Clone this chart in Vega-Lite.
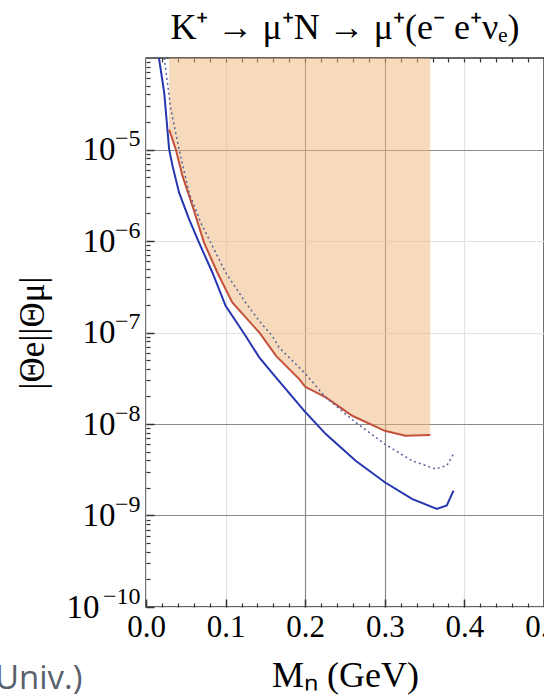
{
  "$schema": "https://vega.github.io/schema/vega-lite/v6.json",
  "autosize": "none",
  "width": 398,
  "height": 549,
  "padding": {"left": 146, "top": 58, "right": 0, "bottom": 92},
  "background": "white",
  "config": {
    "view": {"stroke": "#333333", "strokeWidth": 1.5},
    "font": "Liberation Serif",
    "axis": {"labelFont": "Liberation Serif", "titleFont": "Liberation Serif", "labelColor": "black", "titleColor": "black", "titleFontWeight": "normal", "domain": false}
  },
  "title": {"text": "K⁺ → μ⁺N → μ⁺(e⁻ e⁺νₑ)", "font": "Liberation Serif", "fontSize": 36, "fontWeight": "normal", "color": "black", "offset": 10},
  "datasets": {
    "curves": [
      {"s": "blue", "x": 0.0163, "y": 1.0e-4},
      {"s": "blue", "x": 0.0229, "y": 4.15e-5},
      {"s": "blue", "x": 0.0291, "y": 1.0e-5},
      {"s": "blue", "x": 0.0334, "y": 6.58e-6},
      {"s": "blue", "x": 0.0416, "y": 3.37e-6},
      {"s": "blue", "x": 0.0541, "y": 1.73e-6},
      {"s": "blue", "x": 0.0666, "y": 9.6e-7},
      {"s": "blue", "x": 0.0834, "y": 4.53e-7},
      {"s": "blue", "x": 0.1000, "y": 1.96e-7},
      {"s": "blue", "x": 0.1250, "y": 9.2e-8},
      {"s": "blue", "x": 0.1425, "y": 5.31e-8},
      {"s": "blue", "x": 0.1634, "y": 3.21e-8},
      {"s": "blue", "x": 0.1988, "y": 1.39e-8},
      {"s": "blue", "x": 0.2259, "y": 7.76e-9},
      {"s": "blue", "x": 0.2634, "y": 3.97e-9},
      {"s": "blue", "x": 0.3000, "y": 2.31e-9},
      {"s": "blue", "x": 0.3341, "y": 1.52e-9},
      {"s": "blue", "x": 0.3654, "y": 1.18e-9},
      {"s": "blue", "x": 0.3779, "y": 1.29e-9},
      {"s": "blue", "x": 0.3863, "y": 1.87e-9},
      {"s": "red", "x": 0.0291, "y": 1.65e-5},
      {"s": "red", "x": 0.0375, "y": 1.0e-5},
      {"s": "red", "x": 0.0459, "y": 5.12e-6},
      {"s": "red", "x": 0.0584, "y": 2.41e-6},
      {"s": "red", "x": 0.0729, "y": 9.6e-7},
      {"s": "red", "x": 0.0896, "y": 4.53e-7},
      {"s": "red", "x": 0.1084, "y": 2.13e-7},
      {"s": "red", "x": 0.1425, "y": 9.95e-8},
      {"s": "red", "x": 0.1634, "y": 5.55e-8},
      {"s": "red", "x": 0.1925, "y": 3.09e-8},
      {"s": "red", "x": 0.2000, "y": 2.55e-8},
      {"s": "red", "x": 0.2259, "y": 1.95e-8},
      {"s": "red", "x": 0.2591, "y": 1.23e-8},
      {"s": "red", "x": 0.3000, "y": 8.43e-9},
      {"s": "red", "x": 0.3259, "y": 7.45e-9},
      {"s": "red", "x": 0.3571, "y": 7.59e-9},
      {"s": "dotted", "x": 0.0229, "y": 1.0e-4},
      {"s": "dotted", "x": 0.0313, "y": 2.73e-5},
      {"s": "dotted", "x": 0.0416, "y": 1.0e-5},
      {"s": "dotted", "x": 0.0541, "y": 3.37e-6},
      {"s": "dotted", "x": 0.0688, "y": 1.59e-6},
      {"s": "dotted", "x": 0.0813, "y": 9.6e-7},
      {"s": "dotted", "x": 0.1000, "y": 4.53e-7},
      {"s": "dotted", "x": 0.1250, "y": 2.13e-7},
      {"s": "dotted", "x": 0.1425, "y": 1.33e-7},
      {"s": "dotted", "x": 0.1584, "y": 9.2e-8},
      {"s": "dotted", "x": 0.1675, "y": 6.82e-8},
      {"s": "dotted", "x": 0.1988, "y": 3.65e-8},
      {"s": "dotted", "x": 0.2259, "y": 1.95e-8},
      {"s": "dotted", "x": 0.2634, "y": 1.04e-8},
      {"s": "dotted", "x": 0.3000, "y": 6.04e-9},
      {"s": "dotted", "x": 0.3341, "y": 3.97e-9},
      {"s": "dotted", "x": 0.3634, "y": 3.23e-9},
      {"s": "dotted", "x": 0.3779, "y": 3.51e-9},
      {"s": "dotted", "x": 0.3863, "y": 4.70e-9}
    ]
  },
  "data": {"name": "curves"},
  "resolve": {"axis": {"x": "independent", "y": "independent"}},
  "layer": [
    {
      "transform": [{"filter": "datum.s == 'red'"}],
      "mark": {"type": "area", "color": "#EDB577", "opacity": 0.5, "clip": true},
      "encoding": {
        "x": {"field": "x", "type": "quantitative", "scale": {"domain": [0, 0.5], "nice": false, "zero": false},
          "axis": {"orient": "bottom", "values": [0, 0.1, 0.2, 0.3, 0.4, 0.5], "format": ".1f", "labelFontSize": 31, "labelPadding": 13, "tickSize": -8, "tickColor": "#333", "tickWidth": 1.5,
            "grid": true, "gridColor": {"condition": {"test": "datum.value == 0.2 || datum.value == 0.3", "value": "#8a8a8a"}, "value": "#e2e2e2"}, "gridWidth": 1.2,
            "title": "Mₙ (GeV)", "titleFontSize": 36, "titlePadding": 16, "labelFlush": false, "labelBound": false}},
        "y": {"field": "y", "type": "quantitative", "scale": {"type": "log", "domain": [1e-10, 1e-4], "nice": false},
          "axis": {"orient": "left", "values": [1e-10, 1e-9, 1e-8, 1e-7, 1e-6, 1e-5],
            "labelExpr": "'10'",
            "labelFontSize": 33, "labelPadding": {"condition": {"test": "datum.value == 1e-10", "value": 55}, "value": 39}, "labelBaseline": "middle", "tickSize": -8, "tickColor": "#333", "tickWidth": 1.5,
            "grid": true, "gridColor": {"condition": {"test": "datum.value == 1e-5 || datum.value == 1e-8 || datum.value == 1e-9", "value": "#8a8a8a"}, "value": "#e2e2e2"}, "gridWidth": 1.2,
            "title": "|Θe||Θμ|", "titleFontSize": 35, "titlePadding": 16}},
        "y2": {"datum": 1e-4}
      }
    },
    {
      "transform": [{"filter": "datum.s != 'dotted'"}],
      "mark": {"type": "line", "strokeWidth": 2, "clip": true},
      "encoding": {
        "x": {"field": "x", "type": "quantitative",
          "axis": {"orient": "bottom", "values": [0.02, 0.04, 0.06, 0.08, 0.12, 0.14, 0.16, 0.18, 0.22, 0.24, 0.26, 0.28, 0.32, 0.34, 0.36, 0.38, 0.42, 0.44, 0.46, 0.48], "labels": false, "grid": false, "tickSize": -4, "tickColor": "#333", "tickWidth": 1.2,
            "title": "Univ.)", "titleFont": "Open Sans", "titleFontSize": 33, "titleColor": "#59606e", "titleX": -64, "titleY": 81, "titleAlign": "right", "titleBaseline": "alphabetic", "titleAnchor": "start"}},
        "y": {"field": "y", "type": "quantitative",
          "axis": {"orient": "left", "values": [2e-10, 3e-10, 4e-10, 5e-10, 6e-10, 7e-10, 8e-10, 9e-10, 2e-9, 3e-9, 4e-9, 5e-9, 6e-9, 7e-9, 8e-9, 9e-9, 2e-8, 3e-8, 4e-8, 5e-8, 6e-8, 7e-8, 8e-8, 9e-8, 2e-7, 3e-7, 4e-7, 5e-7, 6e-7, 7e-7, 8e-7, 9e-7, 2e-6, 3e-6, 4e-6, 5e-6, 6e-6, 7e-6, 8e-6, 9e-6, 2e-5, 3e-5, 4e-5, 5e-5, 6e-5, 7e-5, 8e-5, 9e-5], "labels": false, "grid": false, "tickSize": -4, "tickColor": "#333", "tickWidth": 1.2, "title": null}},
        "color": {"field": "s", "type": "nominal", "scale": {"domain": ["blue", "red"], "range": ["#2536B0", "#C2503A"]}, "legend": null}
      }
    },
    {
      "transform": [{"filter": "datum.s == 'dotted'"}],
      "mark": {"type": "line", "strokeWidth": 1.5, "strokeDash": [2, 3], "color": "#56609A", "clip": true},
      "encoding": {
        "x": {"field": "x", "type": "quantitative",
          "axis": {"orient": "top", "values": [0.02, 0.04, 0.06, 0.08, 0.1, 0.12, 0.14, 0.16, 0.18, 0.2, 0.22, 0.24, 0.26, 0.28, 0.3, 0.32, 0.34, 0.36, 0.38, 0.4, 0.42, 0.44, 0.46, 0.48], "labels": false, "grid": false, "tickSize": -4, "tickColor": "#333", "tickWidth": 1.2, "title": null}},
        "y": {"field": "y", "type": "quantitative",
          "axis": {"orient": "left", "values": [1e-10, 1e-9, 1e-8, 1e-7, 1e-6, 1e-5], "labelExpr": "'−' + format(round(-log(datum.value)/LN10), 'd')", "labelFontSize": 24, "labelPadding": 6, "labelOffset": -11, "labelBaseline": "middle", "ticks": false, "grid": false, "title": null}}
      }
    }
  ]
}
